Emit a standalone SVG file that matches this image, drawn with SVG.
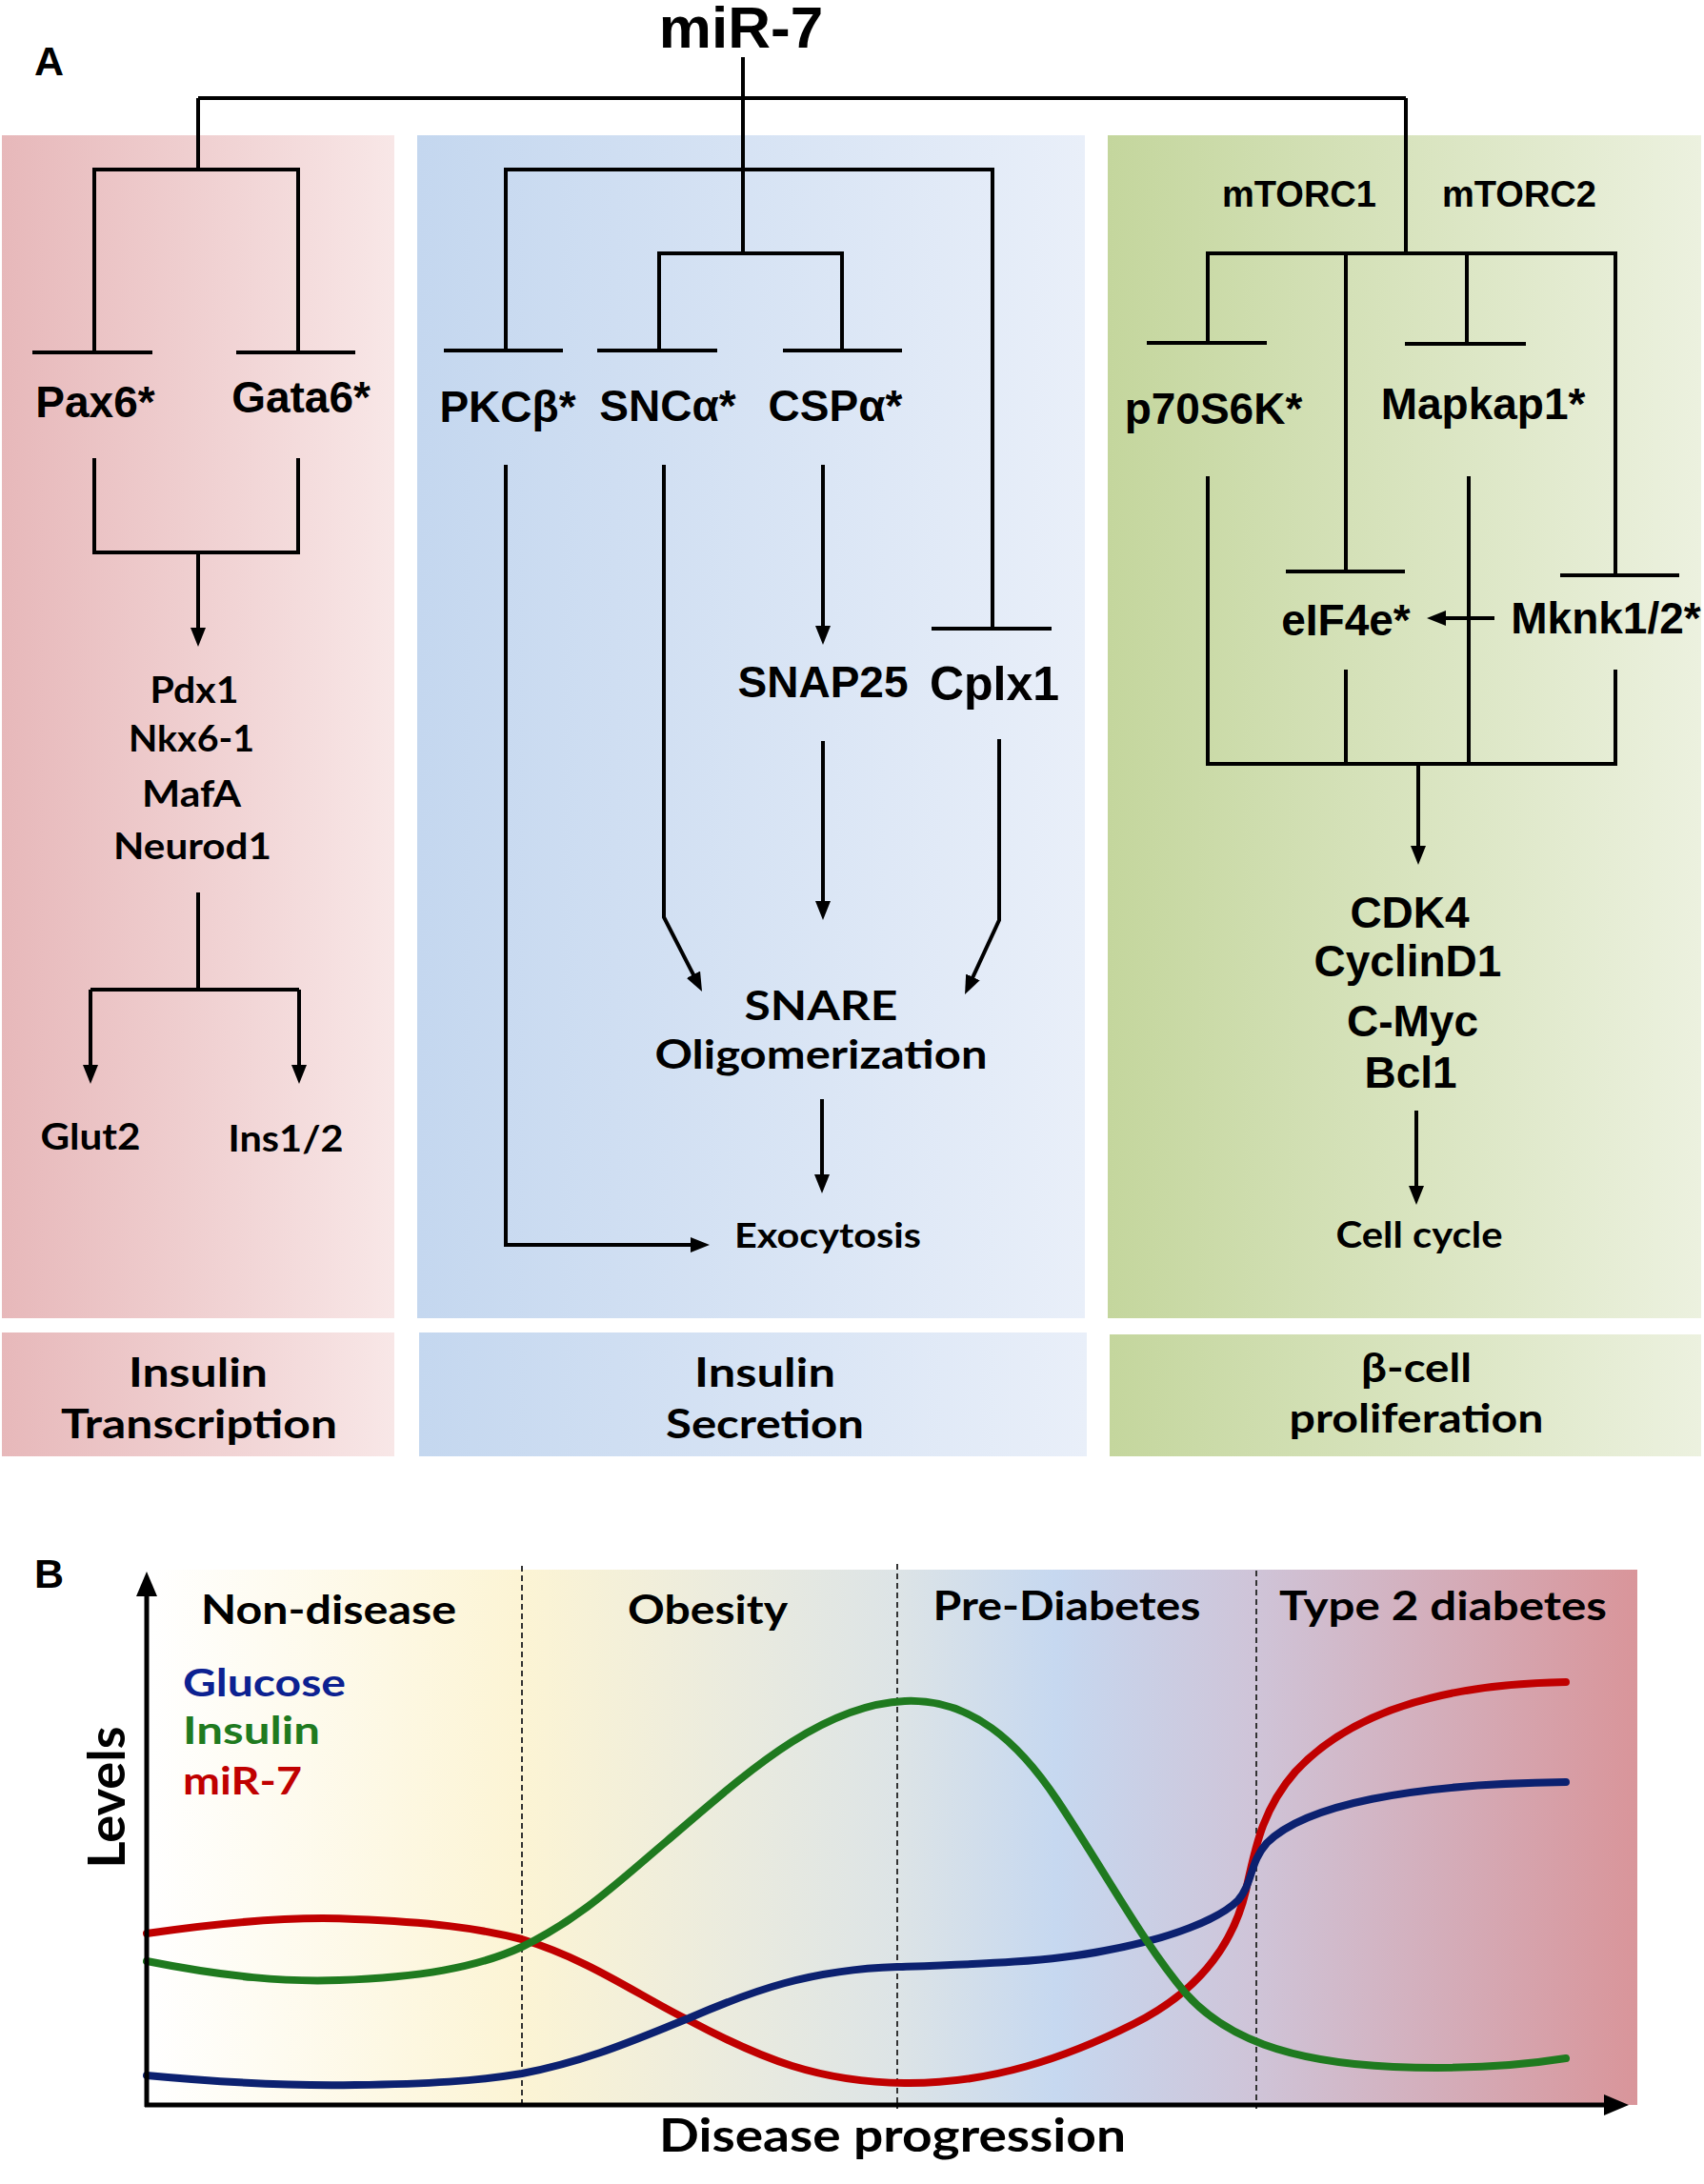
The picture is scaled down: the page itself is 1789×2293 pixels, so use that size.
<svg xmlns="http://www.w3.org/2000/svg" width="1789" height="2293" viewBox="0 0 1789 2293">
<style>
.ln{stroke:#000;stroke-width:4;fill:none}
.ar{marker-end:url(#ah)}
.t{font-family:'Liberation Sans',Arial,sans-serif;font-weight:bold;font-size:46px;text-anchor:middle;fill:#000}
.big{font-size:62px}
.mid{font-size:50px}
.sm{font-size:38px}
.c{font-family:Lato,'Open Sans',sans-serif;font-weight:bold;text-anchor:middle;fill:#000}
.cl{font-family:Lato,'Open Sans',sans-serif;font-weight:bold;font-size:40px}
.crv{fill:none;stroke-width:8;stroke-linecap:round}
.dash{stroke:#333;stroke-width:2;stroke-dasharray:6 4}
</style>
<defs>
<marker id="ah" markerUnits="userSpaceOnUse" markerWidth="20" markerHeight="16" refX="12" refY="8" orient="auto"><path d="M0,0 L20,8 L0,16 z" fill="#000"/></marker>
<marker id="axh" markerUnits="userSpaceOnUse" markerWidth="26" markerHeight="22" refX="6" refY="11" orient="auto"><path d="M0,0 L26,11 L0,22 z" fill="#000"/></marker>
<linearGradient id="gp" x1="0" x2="1" y1="0" y2="0"><stop offset="0" stop-color="#e7b8ba"/><stop offset="1" stop-color="#f8e7e7"/></linearGradient>
<linearGradient id="gb" x1="0" x2="1" y1="0" y2="0"><stop offset="0" stop-color="#c4d7ef"/><stop offset="1" stop-color="#e9eff9"/></linearGradient>
<linearGradient id="gg" x1="0" x2="1" y1="0" y2="0"><stop offset="0" stop-color="#c4d69d"/><stop offset="1" stop-color="#ecf1df"/></linearGradient>
<linearGradient id="gbg" x1="0" x2="1" y1="0" y2="0">
<stop offset="0" stop-color="#ffffff"/>
<stop offset="0.252" stop-color="#fcf4d4"/>
<stop offset="0.502" stop-color="#dde4e6"/>
<stop offset="0.61" stop-color="#c6d8f0"/>
<stop offset="0.744" stop-color="#cfc4d8"/>
<stop offset="1" stop-color="#d9959a"/>
</linearGradient>
</defs>
<rect width="1789" height="2293" fill="#fff"/>

<!-- Panel A backgrounds -->
<g id="panels">
<rect x="2" y="142" width="412" height="1242" fill="url(#gp)"/>
<rect x="438" y="142" width="701" height="1242" fill="url(#gb)"/>
<rect x="1163" y="142" width="623" height="1242" fill="url(#gg)"/>
<rect x="2" y="1399" width="412" height="130" fill="url(#gp)"/>
<rect x="440" y="1399" width="701" height="130" fill="url(#gb)"/>
<rect x="1165" y="1401" width="621" height="128" fill="url(#gg)"/>
</g>

<text x="36" y="79" font-family="'Liberation Sans',Arial,sans-serif" font-weight="bold" font-size="43">A</text>
<g id="mir7"><text class="t big" x="778" y="50">miR-7</text></g>

<!-- connectors panel A -->
<g id="connectors">
<path class="ln" d="M780,60 V266 M208,103 H1476 M208,103 V178 M1476,103 V266"/>
<path class="ln" d="M99,370 V178 H313 V370 M34,370 H160 M248,370 H373"/>
<path class="ln" d="M99,481 V580 H313 V481"/>
<path class="ln ar" d="M208,580 V671"/>
<path class="ln" d="M208,937 V1039 M95,1039 H314"/>
<path class="ln ar" d="M95,1039 V1130"/>
<path class="ln ar" d="M314,1039 V1130"/>
<path class="ln" d="M531,368 V178 H1042 V660 M466,368 H591"/>
<path class="ln" d="M692,368 V266 H884 V368 M627,368 H753 M822,368 H947 M978,660 H1104"/>
<path class="ln ar" d="M531,488 V1307 H737"/>
<path class="ln ar" d="M697,488 V963 L733.4,1033.9"/>
<path class="ln ar" d="M864,488 V669"/>
<path class="ln ar" d="M864,778 V958"/>
<path class="ln ar" d="M1049,776 V966 L1016.4,1036.7"/>
<path class="ln ar" d="M863,1154 V1245"/>
<path class="ln" d="M1268,360 V266 H1696 V604 M1413,266 V600 M1540,266 V361 M1204,360 H1330 M1350,600 H1475 M1475,361 H1602 M1638,604 H1763"/>
<path class="ln ar" d="M1569,649 H1506"/>
<path class="ln" d="M1268,500 V802 H1696 V703 M1542,500 V802 M1413,703 V802"/>
<path class="ln ar" d="M1489,802 V900"/>
<path class="ln ar" d="M1487,1166 V1257"/>
</g>

<!-- nodes panel A -->
<g id="pax6"><text class="t" x="100" y="438">Pax6*</text></g>
<g id="gata6"><text class="t" x="316" y="433">Gata6*</text></g>
<g id="tf-targets">
<text class="c" font-size="38" x="204" y="738" textLength="93" lengthAdjust="spacingAndGlyphs">Pdx1</text>
<text class="c" font-size="38" x="201" y="789" textLength="132" lengthAdjust="spacingAndGlyphs">Nkx6-1</text>
<text class="c" font-size="38" x="201" y="847" textLength="104" lengthAdjust="spacingAndGlyphs">MafA</text>
<text class="c" font-size="38" x="202" y="902" textLength="166" lengthAdjust="spacingAndGlyphs">Neurod1</text>
</g>
<g id="glut2"><text class="c" font-size="38" x="95" y="1207" textLength="105" lengthAdjust="spacingAndGlyphs">Glut2</text></g>
<g id="ins"><text class="c" font-size="38" x="300" y="1209" textLength="121" lengthAdjust="spacingAndGlyphs">Ins1/2</text></g>

<g id="pkcb"><text class="t" x="533" y="443">PKCβ*</text></g>
<g id="snca"><text class="t" x="701" y="442">SNCα*</text></g>
<g id="cspa"><text class="t" x="877" y="442">CSPα*</text></g>
<g id="snap25"><text class="t" x="864" y="732">SNAP25</text></g>
<g id="cplx1"><text class="t mid" x="1044" y="735">Cplx1</text></g>
<g id="snare">
<text class="c" font-size="42" x="862" y="1071" textLength="161" lengthAdjust="spacingAndGlyphs">SNARE</text>
<text class="c" font-size="42" x="862" y="1122" textLength="349" lengthAdjust="spacingAndGlyphs">Oligomerization</text>
</g>
<g id="exocytosis"><text class="c" font-size="37" x="869" y="1310" textLength="196" lengthAdjust="spacingAndGlyphs">Exocytosis</text></g>

<g id="mtorc"><text class="t sm" x="1364" y="217">mTORC1</text><text class="t sm" x="1595" y="217">mTORC2</text></g>
<g id="p70s6k"><text class="t" x="1274" y="445">p70S6K*</text></g>
<g id="mapkap1"><text class="t" x="1557" y="440">Mapkap1*</text></g>
<g id="eif4e"><text class="t" x="1413" y="667">eIF4e*</text></g>
<g id="mknk"><text class="t" x="1686" y="665">Mknk1/2*</text></g>
<g id="cc-targets">
<text class="t" x="1480" y="974">CDK4</text>
<text class="t" x="1478" y="1025">CyclinD1</text>
<text class="t" x="1483" y="1088">C-Myc</text>
<text class="t" x="1481" y="1142">Bcl1</text>
</g>
<g id="cellcycle"><text class="c" font-size="38" x="1490" y="1310" textLength="175" lengthAdjust="spacingAndGlyphs">Cell cycle</text></g>

<g id="label-transcription">
<text class="c" font-size="42" x="208" y="1456" textLength="146" lengthAdjust="spacingAndGlyphs">Insulin</text>
<text class="c" font-size="42" x="209" y="1510" textLength="290" lengthAdjust="spacingAndGlyphs">Transcription</text>
</g>
<g id="label-secretion">
<text class="c" font-size="42" x="803" y="1456" textLength="148" lengthAdjust="spacingAndGlyphs">Insulin</text>
<text class="c" font-size="42" x="803" y="1510" textLength="208" lengthAdjust="spacingAndGlyphs">Secretion</text>
</g>
<g id="label-proliferation">
<text class="c" font-size="42" x="1487" y="1451" textLength="116" lengthAdjust="spacingAndGlyphs">β-cell</text>
<text class="c" font-size="42" x="1487" y="1504" textLength="267" lengthAdjust="spacingAndGlyphs">proliferation</text>
</g>

<!-- Panel B -->
<text x="36" y="1667" font-family="'Liberation Sans',Arial,sans-serif" font-weight="bold" font-size="43">B</text>
<g id="chart">
<rect x="154" y="1648" width="1565" height="562" fill="url(#gbg)"/>
<line class="dash" x1="548" y1="1644" x2="548" y2="2214"/>
<line class="dash" x1="942" y1="1642" x2="942" y2="2214"/>
<line class="dash" x1="1319" y1="1649" x2="1319" y2="2214"/>
<text class="c" font-size="42" x="345" y="1705" textLength="268" lengthAdjust="spacingAndGlyphs">Non-disease</text>
<text class="c" font-size="42" x="743" y="1705" textLength="168" lengthAdjust="spacingAndGlyphs">Obesity</text>
<text class="c" font-size="42" x="1120" y="1701" textLength="281" lengthAdjust="spacingAndGlyphs">Pre-Diabetes</text>
<text class="c" font-size="42" x="1515" y="1701" textLength="344" lengthAdjust="spacingAndGlyphs">Type 2 diabetes</text>
<text class="cl" x="192" y="1781" fill="#0c2191" textLength="171" lengthAdjust="spacingAndGlyphs">Glucose</text>
<text class="cl" x="192" y="1831" fill="#1f7a1f" textLength="144" lengthAdjust="spacingAndGlyphs">Insulin</text>
<text class="cl" x="192" y="1884" fill="#c00000" textLength="125" lengthAdjust="spacingAndGlyphs">miR-7</text>
<text class="c" font-size="54" transform="translate(131,1887) rotate(-90)" x="0" y="0" textLength="149" lengthAdjust="spacingAndGlyphs">Levels</text>
<text class="c" font-size="47" x="937" y="2259" textLength="490" lengthAdjust="spacingAndGlyphs">Disease progression</text>
<path class="crv" stroke="#c00000" d="M154,2030 C250,2016 320,2012 373,2015 C450,2018 500,2024 548,2036 C620,2058 670,2095 723,2121 C800,2162 860,2186 950,2187 C1040,2188 1120,2160 1190,2125 C1260,2090 1295,2040 1308,1985 C1318,1940 1325,1900 1360,1860 C1420,1795 1520,1768 1644,1766"/>
<path class="crv" stroke="#0c2170" d="M154,2179 C250,2188 320,2190 373,2189 C450,2188 500,2185 548,2177 C620,2163 670,2140 723,2119 C790,2090 850,2068 942,2065 C1030,2062 1100,2060 1160,2048 C1230,2035 1280,2015 1300,1995 C1315,1978 1312,1955 1330,1935 C1370,1895 1480,1873 1644,1871"/>
<path class="crv" stroke="#1f7a1f" d="M154,2059 C240,2076 300,2081 356,2079 C440,2076 500,2066 548,2044 C610,2014 650,1975 700,1933 C780,1865 860,1790 950,1786 C1020,1783 1070,1830 1110,1890 C1160,1965 1200,2040 1245,2093 C1285,2138 1350,2165 1463,2170 C1540,2173 1600,2168 1644,2161"/>
<path stroke="#000" stroke-width="5" fill="none" marker-end="url(#axh)" d="M154,2212 V1670"/>
<path stroke="#000" stroke-width="5" fill="none" marker-end="url(#axh)" d="M152,2210 H1690"/>
</g>
</svg>
